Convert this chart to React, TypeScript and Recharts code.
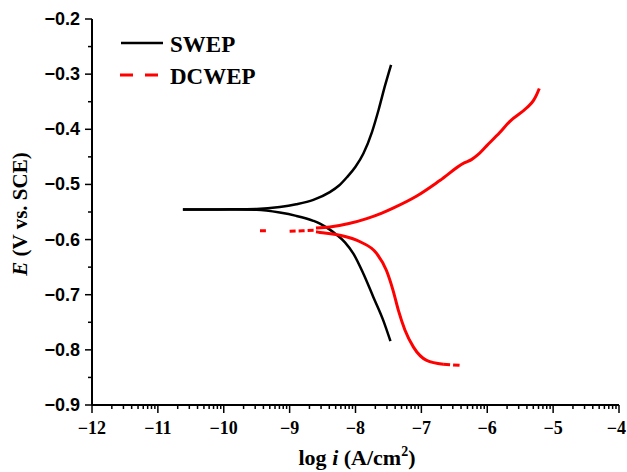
import React from "react";
import { LineChart, Line, XAxis, YAxis } from "recharts";

const xMajorTicks = [-12, -11, -10, -9, -8, -7, -6, -5, -4];
const decades = [-12, -11, -10, -9, -8, -7, -6, -5];
const minorFactors = [2, 3, 4, 5, 6, 7, 8, 9];
const xMinorTicks = decades.flatMap((d) => minorFactors.map((k) => d + Math.log10(k)));
const yMajorTicks = [-0.9, -0.8, -0.7, -0.6, -0.5, -0.4, -0.3, -0.2];
const yMinorTicks = [-0.85, -0.75, -0.65, -0.55, -0.45, -0.35, -0.25];

// SWEP (black)
const swepAnodicX = [-10.62, -10.2, -9.8, -9.5, -9.15, -8.9, -8.64, -8.39, -8.25, -8.13, -8.0, -7.88, -7.75, -7.65, -7.55, -7.46];
const swepAnodicE = [-0.5455, -0.5455, -0.545, -0.5445, -0.541, -0.536, -0.528, -0.514, -0.502, -0.487, -0.468, -0.444, -0.405, -0.365, -0.32, -0.283];
const swepCathodicX = [-10.62, -10.2, -9.8, -9.5, -9.15, -8.9, -8.64, -8.54, -8.39, -8.29, -8.16, -8.03, -7.88, -7.73, -7.58, -7.47];
const swepCathodicE = [-0.5455, -0.5455, -0.5455, -0.546, -0.551, -0.557, -0.566, -0.571, -0.582, -0.591, -0.605, -0.626, -0.662, -0.704, -0.746, -0.784];

// DCWEP (red)
const dcAnodicX = [-8.6, -8.39, -8.1, -7.83, -7.6, -7.43, -7.07, -6.72, -6.35, -6.24, -6.15, -6.01, -5.81, -5.66, -5.4, -5.3, -5.25, -5.21];
const dcAnodicE = [-0.579, -0.577, -0.571, -0.562, -0.552, -0.543, -0.521, -0.493, -0.461, -0.455, -0.447, -0.43, -0.406, -0.386, -0.361, -0.348, -0.337, -0.326];
const dcCathodicX = [-8.6, -8.54, -8.24, -7.93, -7.68, -7.53, -7.43, -7.35, -7.25, -7.12, -6.92, -6.67];
const dcCathodicE = [-0.586, -0.587, -0.592, -0.604, -0.625, -0.656, -0.692, -0.728, -0.764, -0.795, -0.819, -0.826];
const dcTailX = [-6.67, -6.55, -6.42];
const dcTailE = [-0.826, -0.827, -0.828];
const dcNoiseX = [-9.45, -9.36, -9.2, -9.0, -8.8, -8.6];
const dcNoiseE = [-0.584, -0.584, null, -0.585, -0.584, -0.583];

const zip = (xs: number[], es: (number | null)[]) => xs.map((x, i) => ({ x, e: es[i] }));

const swepAnodic = zip(swepAnodicX, swepAnodicE);
const swepCathodic = zip(swepCathodicX, swepCathodicE);
const dcAnodic = zip(dcAnodicX, dcAnodicE);
const dcCathodic = zip(dcCathodicX, dcCathodicE);
const dcTail = zip(dcTailX, dcTailE);
const dcNoise = zip(dcNoiseX, dcNoiseE);

const isMajor = (v: number, majors: number[]) => majors.some((m) => Math.abs(m - v) < 1e-6);
const minus = (s: string) => s.replace("-", "\u2212");

const XTick = (props: any) => {
  const { x, y, payload } = props;
  const major = isMajor(payload.value, xMajorTicks);
  const last = Math.abs(payload.value - xMajorTicks[xMajorTicks.length - 1]) < 1e-6;
  return (
    <g>
      <line x1={x} x2={x} y1={y} y2={y + (major ? 8 : 4)} stroke="#000" strokeWidth={1.5} />
      {major && (
        <text
          x={last ? x + 7 : x}
          y={y + 29}
          textAnchor={last ? "end" : "middle"}
          fontFamily="'Liberation Serif', serif"
          fontWeight="bold"
          fontSize={18}
          fill="#000"
        >
          {minus(String(Math.round(payload.value)))}
        </text>
      )}
    </g>
  );
};

const YTick = (props: any) => {
  const { x, y, payload } = props;
  const major = isMajor(payload.value, yMajorTicks);
  return (
    <g>
      <line x1={x - (major ? 7 : 4)} x2={x} y1={y} y2={y} stroke="#000" strokeWidth={1.5} />
      {major && (
        <text x={x - 12} y={y + 6} textAnchor="end" fontFamily="'Liberation Sans', Arial, sans-serif" fontWeight="bold" fontSize={18} fill="#000">
          {minus(payload.value.toFixed(1))}
        </text>
      )}
    </g>
  );
};

const W = 627;
const H = 472;
const serif = "'Liberation Serif', 'Times New Roman', serif";

export default function App() {
  return (
    <div style={{ position: "relative", width: W, height: H, overflow: "hidden" }}>
      <style>{"html,body{margin:0;padding:0;}"}</style>
      <LineChart width={W} height={H} margin={{ top: 19, right: 8, bottom: 8, left: 8 }}>
        <XAxis
          xAxisId="b"
          dataKey="x"
          type="number"
          domain={[-12, -4]}
          ticks={[...xMajorTicks, ...xMinorTicks]}
          interval={0}
          tickSize={0}
          tickMargin={0}
          tickLine={false}
          tick={<XTick />}
          axisLine={{ stroke: "#000", strokeWidth: 2 }}
          height={59}
          allowDataOverflow
        />
        <XAxis xAxisId="t" orientation="top" dataKey="x" type="number" domain={[-12, -4]} tick={false} tickLine={false} axisLine={{ stroke: "#7a7a7a", strokeWidth: 1.5 }} height={0} />
        <YAxis
          yAxisId="l"
          type="number"
          domain={[-0.9, -0.2]}
          ticks={[...yMajorTicks, ...yMinorTicks]}
          interval={0}
          tickSize={0}
          tickMargin={0}
          tickLine={false}
          tick={<YTick />}
          axisLine={{ stroke: "#000", strokeWidth: 2 }}
          width={84}
          allowDataOverflow
        />
        <YAxis yAxisId="r" orientation="right" type="number" domain={[-0.9, -0.2]} tick={false} tickLine={false} axisLine={{ stroke: "#7a7a7a", strokeWidth: 1.5 }} width={0} />
        <Line xAxisId="b" yAxisId="l" data={swepAnodic} dataKey="e" type="monotone" stroke="#000" strokeWidth={2.5} dot={false} isAnimationActive={false} />
        <Line xAxisId="b" yAxisId="l" data={swepCathodic} dataKey="e" type="monotone" stroke="#000" strokeWidth={2.5} dot={false} isAnimationActive={false} />
        <Line xAxisId="b" yAxisId="l" data={dcNoise} dataKey="e" type="linear" stroke="#ff0000" strokeWidth={3} strokeDasharray="6 3" dot={false} isAnimationActive={false} />
        <Line xAxisId="b" yAxisId="l" data={dcAnodic} dataKey="e" type="monotone" stroke="#ff0000" strokeWidth={3} dot={false} isAnimationActive={false} />
        <Line xAxisId="b" yAxisId="l" data={dcCathodic} dataKey="e" type="monotone" stroke="#ff0000" strokeWidth={3} dot={false} isAnimationActive={false} />
        <Line xAxisId="b" yAxisId="l" data={dcTail} dataKey="e" type="linear" stroke="#ff0000" strokeWidth={3} strokeDasharray="7 3" dot={false} isAnimationActive={false} />
      </LineChart>
      <svg width={W} height={H} style={{ position: "absolute", left: 0, top: 0, pointerEvents: "none" }}>
        <line x1={121} x2={163} y1={43} y2={43} stroke="#000" strokeWidth={2.5} />
        <text x={170} y={52} fontFamily={serif} fontWeight="bold" fontSize={23} fill="#000">SWEP</text>
        <line x1={120} x2={158} y1={75} y2={75} stroke="#ff0000" strokeWidth={3} strokeDasharray="13 12" />
        <text x={170} y={84} fontFamily={serif} fontWeight="bold" fontSize={23} fill="#000">DCWEP</text>
        <text transform="translate(27,214) rotate(-90)" textAnchor="middle" fontFamily={serif} fontWeight="bold" fontSize={21} fill="#000">
          <tspan fontStyle="italic">E</tspan> (V vs. SCE)
        </text>
        <text x={357} y={465} textAnchor="middle" fontFamily={serif} fontWeight="bold" fontSize={22} fill="#000">
          log <tspan fontStyle="italic">i</tspan> (A/cm<tspan fontSize={14} dy={-9}>2</tspan><tspan dy={9}>)</tspan>
        </text>
      </svg>
    </div>
  );
}
